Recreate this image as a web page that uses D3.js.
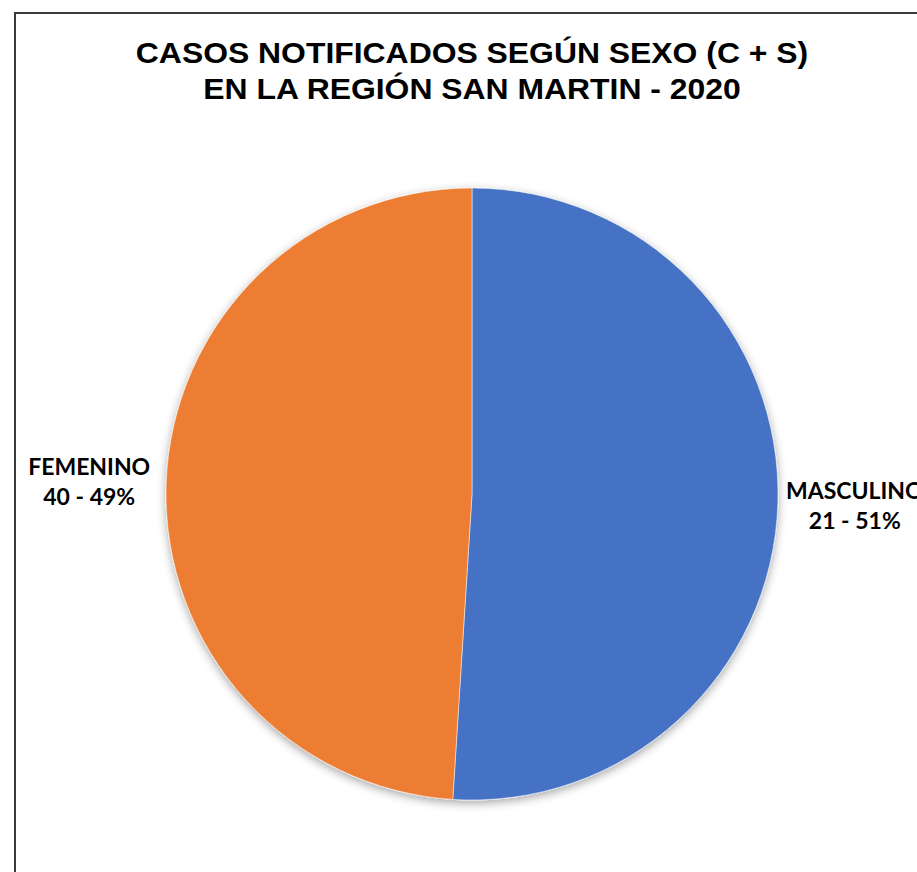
<!DOCTYPE html>
<html>
<head>
<meta charset="utf-8">
<script src="https://cdn.jsdelivr.net/npm/d3@7"></script>
<style>
	body { margin: 0; background: #fff; }
	svg { display: block; }
</style>
</head>
<body>
<svg></svg>
<script>
var WIDTH = 917;
var HEIGHT = 872;

// chart data
var categories = ['MASCULINO', 'FEMENINO'];
var cases = [21, 40];
var percents = [51, 49];
var colors = ['#4472C4', '#ED7D31'];
var titleLines = ['CASOS NOTIFICADOS SEGÚN SEXO (C + S)', 'EN LA REGIÓN SAN MARTIN - 2020'];

var CX = 472;
var CY = 494;
var RADIUS = 306;

var svg = d3.select('svg')
	.attr('width', WIDTH)
	.attr('height', HEIGHT);

// drop shadow under the pie
var filter = svg.append('defs').append('filter')
	.attr('id', 'shadow')
	.attr('x', '-20%').attr('y', '-20%')
	.attr('width', '140%').attr('height', '140%');
filter.append('feDropShadow')
	.attr('dx', 0)
	.attr('dy', 3)
	.attr('stdDeviation', 5)
	.attr('flood-color', '#000')
	.attr('flood-opacity', 0.35);

// chart border (right and bottom edges run off the page)
svg.append('rect')
	.attr('x', 15)
	.attr('y', 13)
	.attr('width', 1000)
	.attr('height', 1000)
	.attr('fill', 'none')
	.attr('stroke', '#3a3a3a')
	.attr('stroke-width', 2);

// title, slightly widened like the original
svg.append('g')
	.attr('transform', 'translate(' + CX + ',0) scale(1.1,1)')
	.append('text')
	.attr('y', 63)
	.attr('text-anchor', 'middle')
	.style('font-family', 'Liberation Sans, Arial, sans-serif')
	.style('font-weight', 'bold')
	.style('font-size', '29px')
	.style('fill', '#000')
	.selectAll('tspan')
	.data(titleLines)
	.enter()
	.append('tspan')
	.attr('x', 0)
	.attr('dy', function(d, i){ return i === 0 ? 0 : 36; })
	.text(function(d){ return d; });

var data = categories.map(function(c, i){
	return { name: c, cases: cases[i], pct: percents[i], color: colors[i] };
});

var pie = d3.pie()
	.sort(null)
	.value(function(d){ return d.pct; });

var arc = d3.arc()
	.innerRadius(0)
	.outerRadius(RADIUS);

var labelArc = d3.arc()
	.innerRadius(383)
	.outerRadius(383);

var g = svg.append('g')
	.attr('transform', 'translate(' + CX + ',' + CY + ')');

g.append('g')
	.attr('filter', 'url(#shadow)')
	.selectAll('path')
	.data(pie(data))
	.enter()
	.append('path')
	.attr('d', arc)
	.attr('fill', function(d){ return d.data.color; })
	.attr('stroke', '#fff')
	.attr('stroke-width', 0.5);

var labels = g.selectAll('text.label')
	.data(pie(data))
	.enter()
	.append('text')
	.attr('class', 'label')
	.attr('transform', function(d){
		var c = labelArc.centroid(d);
		return 'translate(' + c[0] + ',' + c[1] + ')';
	})
	.attr('text-anchor', 'middle')
	.style('font-family', 'Lato, Open Sans, sans-serif')
	.style('font-weight', 'bold')
	.style('font-size', '23px')
	.style('fill', '#000');

labels.append('tspan')
	.attr('x', 0)
	.attr('dy', -7)
	.text(function(d){ return d.data.name; });
labels.append('tspan')
	.attr('x', 0)
	.attr('dy', 30)
	.text(function(d){ return d.data.cases + ' - ' + d.data.pct + '%'; });
</script>
</body>
</html>
